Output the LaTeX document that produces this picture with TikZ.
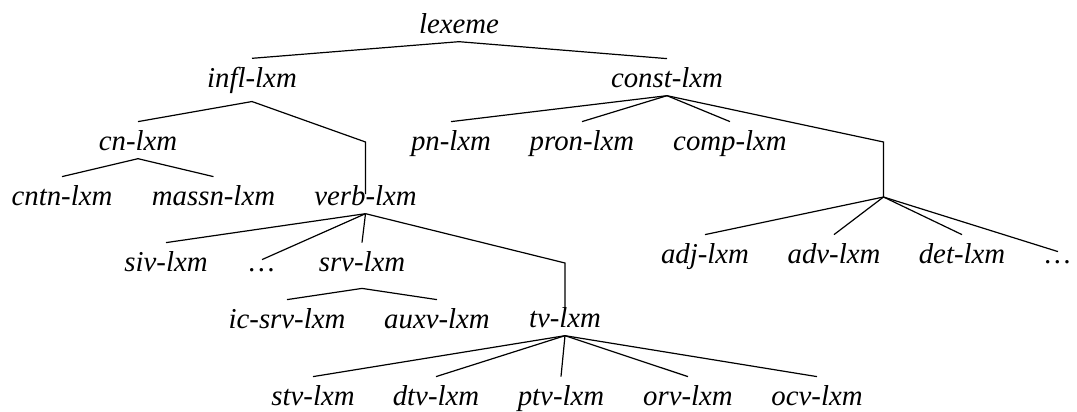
\documentclass[tikz,border=0pt]{standalone}
\usepackage{fontspec}
\setmainfont{Liberation Serif}

\tikzset{
  lxm/.style={anchor=base, inner sep=4pt, font=\fontsize{14.4}{17}\selectfont\itshape},
  branch/.style={line width=0.6pt},
}

\begin{document}
\begin{tikzpicture}[x=0.5pt, y=-0.5pt]
  \useasboundingbox (0,0) rectangle (1077,412);

  % ---- Upper part of the hierarchy ----
  \node[lxm] (lexeme) at (459,33) {lexeme};
  \node[lxm] (infl)   at (252,87) {infl-lxm};
  \node[lxm] (const)  at (667,87) {const-lxm};

  \node[lxm] (cn)    at (138,150) {cn-lxm};
  \node[lxm] (pn)    at (451,150) {pn-lxm};
  \node[lxm] (pron)  at (582,150) {pron-lxm};
  \node[lxm] (comp)  at (730,150) {comp-lxm};

  \node[lxm] (cntn)  at (62,205)    {cntn-lxm};
  \node[lxm] (massn) at (213.5,205) {massn-lxm};
  \node[lxm] (verb)  at (365.5,205) {verb-lxm};

  % ---- Verb subtypes ----
  \node[lxm] (siv)   at (166,271) {siv-lxm};
  \node[lxm] (vdots) at (262,271) {\dots};
  \node[lxm, text depth=4.5pt] (srv) at (362,271) {srv-lxm};

  \node[lxm] (icsrv) at (287,328) {ic-srv-lxm};
  \node[lxm] (auxv)  at (437,328) {auxv-lxm};
  \node[lxm] (tv)    at (565,327) {tv-lxm};

  \node[lxm] (stv) at (313,405) {stv-lxm};
  \node[lxm] (dtv) at (436,405) {dtv-lxm};
  \node[lxm] (ptv) at (561,405) {ptv-lxm};
  \node[lxm] (orv) at (688,405) {orv-lxm};
  \node[lxm] (ocv) at (817,405) {ocv-lxm};

  % ---- Other constant lexemes ----
  \node[lxm] (adj)   at (705,263)  {adj-lxm};
  \node[lxm] (adv)   at (834,263)  {adv-lxm};
  \node[lxm] (det)   at (962,263)  {det-lxm};
  \node[lxm] (cdots) at (1058,263) {\dots};

  % bend points of the long branches
  \coordinate (vbend) at (365.5,142);
  \coordinate (tbend) at (565,263);
  \coordinate (cbend) at (883.5,142);
  \coordinate (cfork) at (883.5,197);

  % ---- Branches ----
  \draw[branch] (lexeme.south) -- (infl.north);
  \draw[branch] (lexeme.south) -- (const.north);

  \draw[branch] (infl.south) -- (cn.north);
  \draw[branch, shorten >=-8.7pt] (infl.south) -- (vbend) -- (verb.north);
  \foreach \c in {cntn,massn}
    \draw[branch] (cn.south) -- (\c.north);

  \foreach \c in {pn,pron,comp}
    \draw[branch] (const.south) -- (\c.north);
  \draw[branch] (const.south) -- (cbend) -- (cfork);
  \foreach \c in {adj,adv,det,cdots}
    \draw[branch] (cfork) -- (\c.north);

  \foreach \c in {siv,vdots,srv}
    \draw[branch] (verb.south) -- (\c.north);
  \draw[branch, shorten >=-4.2pt] (verb.south) -- (tbend) -- (tv.north);
  \foreach \c in {icsrv,auxv}
    \draw[branch] (srv.south) -- (\c.north);
  \foreach \c in {stv,dtv,ptv,orv,ocv}
    \draw[branch] (tv.south) -- (\c.north);

\end{tikzpicture}
\end{document}
